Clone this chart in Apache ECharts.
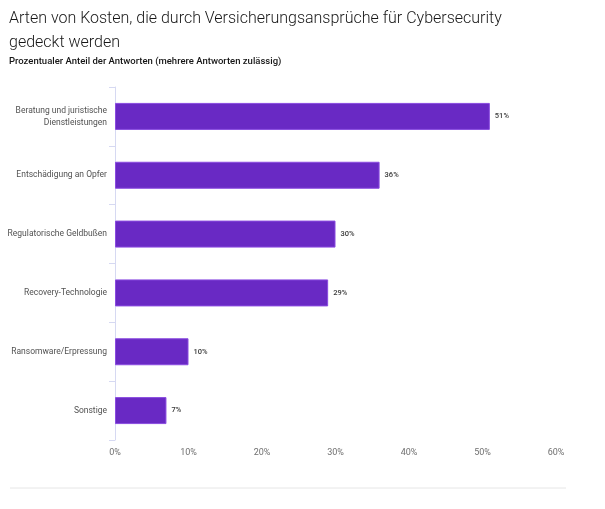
<!DOCTYPE html>
<html><head><meta charset="utf-8">
<script src="https://cdn.jsdelivr.net/npm/echarts@6/dist/echarts.min.js"></script>
<style>html,body{margin:0;padding:0;background:#fff}#c{width:605px;height:509px}</style>
</head><body><div id="c"></div>
<script>
const categories = ["Beratung und juristische\nDienstleistungen","Entschädigung an Opfer","Regulatorische Geldbußen","Recovery-Technologie","Ransomware/Erpressung","Sonstige"];
const values = [51, 36, 30, 29, 10, 7];
const xTicks = [0, 10, 20, 30, 40, 50, 60];

const chart = echarts.init(document.getElementById('c'), null, {renderer:'canvas'});
chart.setOption({
  animation:false,
  backgroundColor:'#fff',
  title:[
    {text:'Arten von Kosten, die durch Versicherungsansprüche für Cybersecurity\ngedeckt werden',
     left:9, top:7, padding:0, textStyle:{fontFamily:'Roboto', fontWeight:300, fontSize:16, lineHeight:24, color:'#161616'}},
    {text:'Prozentualer Anteil der Antworten (mehrere Antworten zulässig)',
     left:9, top:57, padding:0, textStyle:{fontFamily:'Roboto', fontWeight:500, fontSize:9.5, color:'#161616'}}
  ],
  grid:{left:115, right:49, top:87, bottom:69, containLabel:false},
  xAxis:{type:'value', min:xTicks[0], max:xTicks[xTicks.length-1], interval:10,
    axisLine:{show:false}, axisTick:{show:false}, splitLine:{show:false},
    axisLabel:{formatter:'{value}%', color:'#6f6f6f', fontFamily:'Roboto', fontSize:9, margin:8}},
  yAxis:{type:'category', data:categories, inverse:true,
    axisLine:{show:true, lineStyle:{color:'#d6d9f2', width:1}},
    axisTick:{show:true, length:6, lineStyle:{color:'#d6d9f2'}},
    axisLabel:{color:'#525252', fontFamily:'Roboto', fontSize:8.5, lineHeight:12, margin:8, align:'right'}},
  series:[{type:'bar', data:values, barWidth:27,
    itemStyle:{color:'#6929c4', borderColor:'#8a4be0', borderWidth:1},
    label:{show:true, position:'right', formatter:'{c}%', distance:5, color:'#393939', fontFamily:'Roboto', fontWeight:500, fontSize:7.5}}],
  graphic:[{type:'line', shape:{x1:10, y1:488, x2:566, y2:488}, style:{stroke:'#e6e6e6', lineWidth:1}}]
});
</script></body></html>
